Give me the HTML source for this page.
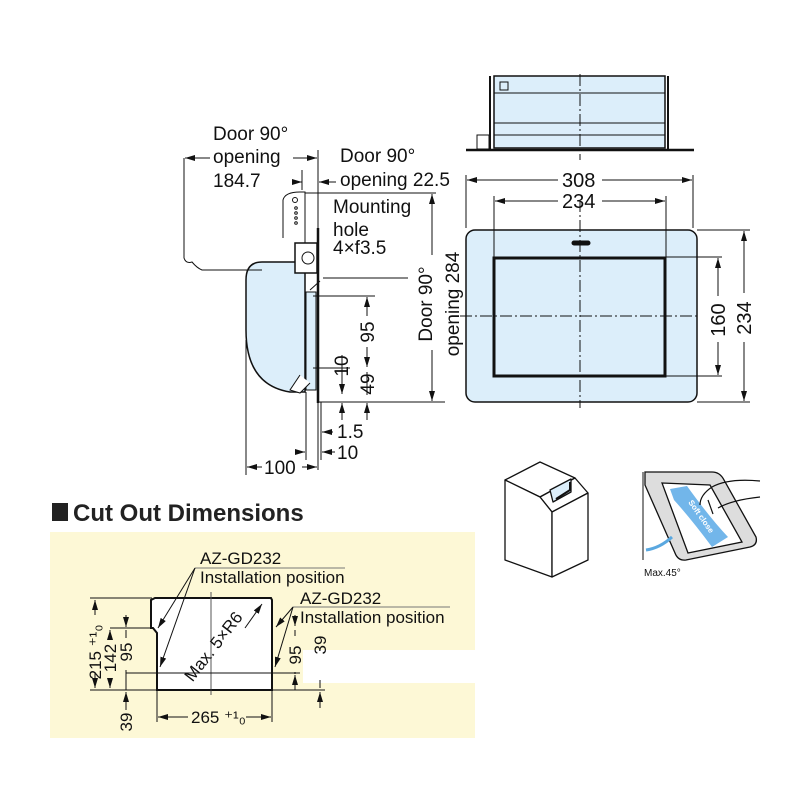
<!DOCTYPE html>
<html><head><meta charset="utf-8"><style>
html,body{margin:0;padding:0;background:#fff;width:800px;height:800px;overflow:hidden}
svg{display:block;font-family:"Liberation Sans",Arial,sans-serif}
</style></head><body>
<svg width="800" height="800" viewBox="0 0 800 800" xmlns="http://www.w3.org/2000/svg">
<defs>
<marker id="a" viewBox="0 0 10 6" refX="10" refY="3" markerWidth="10" markerHeight="6" orient="auto-start-reverse" markerUnits="userSpaceOnUse"><path d="M0,0L10,3L0,6z" fill="#111"/></marker>
</defs>
<g stroke="#111" fill="none" stroke-width="1">
<!-- TOP VIEW -->
<rect x="494" y="76" width="171" height="72" fill="#dceefa" stroke-width="1.5"/>
<line x1="494" y1="93" x2="665" y2="93"/>
<line x1="494" y1="123" x2="665" y2="123"/>
<line x1="494" y1="135" x2="665" y2="135"/>
<line x1="466" y1="150" x2="694" y2="150" stroke-width="2.5"/>
<rect x="477" y="135" width="12" height="14"/>
<rect x="500" y="82" width="8" height="8"/>
<line x1="490" y1="76" x2="490" y2="150" stroke-width="2"/>
<line x1="668" y1="76" x2="668" y2="150" stroke-width="2"/>
<line x1="580" y1="74" x2="580" y2="160" stroke-dasharray="12,3,2,3"/>
<!-- FRONT VIEW -->
<rect x="466" y="230" width="231" height="172" rx="9" fill="#dceefa" stroke-width="1.5"/>
<rect x="494" y="258" width="171" height="118" stroke-width="3"/>
<rect x="572" y="241" width="18" height="4" rx="2" fill="#111"/>
<line x1="580" y1="200" x2="580" y2="408" stroke-dasharray="12,3,2,3"/>
<line x1="460" y1="316" x2="700" y2="316" stroke-dasharray="12,3,2,3"/>
<!-- front dims -->
<line x1="466" y1="175" x2="466" y2="228"/><line x1="693" y1="175" x2="693" y2="228"/>
<line x1="494" y1="196" x2="494" y2="258"/><line x1="666" y1="196" x2="666" y2="258"/>
<line x1="467" y1="180" x2="558" y2="180" marker-start="url(#a)"/><line x1="602" y1="180" x2="692" y2="180" marker-end="url(#a)"/>
<line x1="495" y1="201" x2="558" y2="201" marker-start="url(#a)"/><line x1="602" y1="201" x2="665" y2="201" marker-end="url(#a)"/>
<line x1="665" y1="257" x2="722" y2="257"/><line x1="665" y1="376" x2="722" y2="376"/>
<line x1="697" y1="230" x2="750" y2="230"/><line x1="697" y1="402" x2="750" y2="402"/>
<line x1="718" y1="258" x2="718" y2="296" marker-start="url(#a)"/><line x1="718" y1="342" x2="718" y2="375" marker-end="url(#a)"/>
<line x1="744" y1="231" x2="744" y2="293" marker-start="url(#a)"/><line x1="744" y1="342" x2="744" y2="401" marker-end="url(#a)"/>
<!-- SIDE VIEW -->
<path d="M262,262 L305,262 L305,392 L290,392 Q246,385 246,330 L246,280 Q246,262 262,262Z" fill="#dceefa" stroke-width="1.5"/>
<rect x="306" y="292" width="10" height="98" fill="#dceefa"/>
<path d="M283,238 L283,200 Q285,192 300,192 L305,192 L305,243" fill="#fff"/>
<rect x="295" y="243" width="22" height="30" fill="#fff" stroke-width="1.5"/>
<circle cx="308" cy="258" r="6"/>
<line x1="318" y1="228" x2="318" y2="403" stroke-width="2.5"/>
<path d="M300,375 L290,390 L300,393 L310,383" fill="#fff"/>
<circle cx="295" cy="200" r="2.5"/><circle cx="296" cy="208" r="1.3"/><circle cx="296" cy="213" r="1.3"/><circle cx="296" cy="218" r="1.3"/><circle cx="296" cy="223" r="1.3"/>
<path d="M184,158 L184,258 Q186,264 192,262 Q197,268 202,270 L262,270"/>
<line x1="318" y1="150" x2="318" y2="228"/><line x1="302" y1="170" x2="302" y2="190"/>
<line x1="185" y1="158" x2="210" y2="158" marker-start="url(#a)"/><line x1="293" y1="158" x2="317" y2="158" marker-end="url(#a)"/>
<line x1="292" y1="182" x2="302" y2="182" marker-end="url(#a)"/><line x1="336" y1="182" x2="319" y2="182" marker-end="url(#a)"/>
<line x1="305" y1="193" x2="436" y2="193"/>
<line x1="318" y1="402" x2="445" y2="402"/>
<line x1="432" y1="194" x2="432" y2="255" marker-start="url(#a)"/><line x1="432" y1="350" x2="432" y2="401" marker-end="url(#a)"/>
<line x1="320" y1="281" x2="310" y2="290"/><line x1="323" y1="278" x2="408" y2="278"/>
<line x1="313" y1="296" x2="375" y2="296"/><line x1="313" y1="368" x2="350" y2="368"/>
<line x1="367" y1="297" x2="367" y2="316" marker-start="url(#a)"/><line x1="367" y1="347" x2="367" y2="367" marker-end="url(#a)"/>
<line x1="367" y1="372" x2="367" y2="395"/><line x1="367" y1="420" x2="367" y2="403" marker-end="url(#a)"/>
<line x1="342" y1="355" x2="342" y2="394" marker-end="url(#a)"/><line x1="342" y1="420" x2="342" y2="403" marker-end="url(#a)"/>
<line x1="318" y1="402" x2="318" y2="470"/><line x1="321" y1="402" x2="321" y2="460"/><line x1="306" y1="392" x2="306" y2="460"/><line x1="246" y1="340" x2="246" y2="475"/>
<line x1="333" y1="432" x2="322" y2="432" marker-end="url(#a)"/>
<line x1="296" y1="452" x2="305" y2="452" marker-end="url(#a)"/><line x1="335" y1="452" x2="322" y2="452" marker-end="url(#a)"/>
<line x1="247" y1="467" x2="262" y2="467" marker-start="url(#a)"/><line x1="302" y1="467" x2="317" y2="467" marker-end="url(#a)"/>
<!-- bin -->
<g stroke-width="1.3" stroke-linejoin="round">
<path d="M505,480 L540,462 L575,478 L540,497 Z" fill="#fff"/>
<path d="M540,497 L575,478 L588,493 L552,512 Z" fill="#fff"/>
<path d="M505,480 L540,497 L552,512 L552,577 L505,560 Z" fill="#fff"/>
<path d="M588,493 L588,560 L552,577 L552,512 Z" fill="#fff"/>
<path d="M550,490 L571,479 L571,492 L553,502 Z" fill="#dceefa"/>
<path d="M556,499 L570,490 L570,482" stroke-width="2"/>
</g>
<!-- tablet -->
<path d="M645,472 L712,472 Q720,472 724,480 L756,537 Q758,545 750,547 L686,560 Q678,561 675,553 L645,485 Z" fill="#ddd" stroke-width="1.3"/>
<path d="M662,483 L710,485 L742,542 L688,553 Z" fill="#fff" stroke-width="1.3"/>
<path d="M670,489 L687,486 Q710,518 728,537 L712,547 Q692,520 674,500 Z" fill="#72b6ea" stroke="none"/>
<path d="M712,487 Q728,478 760,481 M712,487 Q700,495 700,505 M718,508 Q732,500 760,497 M708,500 L713,514" stroke-width="1.2"/>
<line x1="643" y1="472" x2="643" y2="560"/>
<path d="M646,550 Q660,548 672,537" stroke="#5aa8e0" stroke-width="3"/>
</g>
<rect x="52" y="503" width="16" height="18" fill="#222"/>
<text x="73" y="521" font-size="24" font-weight="bold" fill="#222">Cut Out Dimensions</text>
<rect x="50" y="532" width="425" height="206" fill="#fdf8d6"/>
<rect x="303" y="650" width="172" height="33" fill="#fff"/>
<g stroke="#111" fill="none" stroke-width="1">
<path d="M155,598 L271,598 L272,600 L272,690 L157,690 L157,633 L153,628 L151,628 L151,600 Z" fill="#fff" stroke-width="2"/>
<line x1="211" y1="592" x2="211" y2="695" stroke="#555"/>
<line x1="90" y1="598" x2="152" y2="598"/><line x1="90" y1="690" x2="325" y2="690"/>
<line x1="110" y1="628" x2="150" y2="628"/><line x1="126" y1="673" x2="300" y2="673"/>
<line x1="95" y1="600" x2="95" y2="615" marker-start="url(#a)"/><line x1="95" y1="672" x2="95" y2="688" marker-end="url(#a)"/>
<line x1="110" y1="630" x2="110" y2="638" marker-start="url(#a)"/><line x1="110" y1="680" x2="110" y2="688" marker-end="url(#a)"/>
<line x1="126" y1="615" x2="126" y2="627" marker-end="url(#a)"/><line x1="126" y1="630" x2="126" y2="638"/><line x1="126" y1="670" x2="126" y2="690"/><line x1="126" y1="710" x2="126" y2="692" marker-end="url(#a)"/>
<line x1="157" y1="690" x2="157" y2="722"/><line x1="272" y1="690" x2="272" y2="722"/>
<line x1="158" y1="717" x2="188" y2="717" marker-start="url(#a)"/><line x1="246" y1="717" x2="271" y2="717" marker-end="url(#a)"/>
<line x1="195" y1="568" x2="345" y2="568" stroke="#777"/><line x1="195" y1="568" x2="158" y2="628" marker-end="url(#a)"/><line x1="195" y1="568" x2="160" y2="667" marker-end="url(#a)"/>
<line x1="293" y1="607" x2="450" y2="607" stroke="#777"/><line x1="293" y1="607" x2="276" y2="627" marker-end="url(#a)"/><line x1="293" y1="607" x2="275" y2="667" marker-end="url(#a)"/>
<line x1="295" y1="615" x2="295" y2="626" marker-end="url(#a)"/><line x1="295" y1="630" x2="295" y2="636"/><line x1="295" y1="672" x2="295" y2="674"/><line x1="295" y1="690" x2="295" y2="675" marker-end="url(#a)"/>
<line x1="320" y1="680" x2="320" y2="688"/><line x1="320" y1="708" x2="320" y2="692" marker-end="url(#a)"/>
<line x1="245" y1="628" x2="262" y2="604" marker-end="url(#a)"/>
</g>
<g fill="#111" font-size="19">
<text x="213" y="140">Door 90°</text><text x="213" y="163">opening</text><text x="213" y="187">184.7</text>
<text x="340" y="162">Door 90°</text><text x="340" y="186">opening 22.5</text>
<text x="333" y="213">Mounting</text><text x="333" y="236">hole</text><text x="333" y="254">4×f3.5</text>
<text transform="translate(432,304) rotate(-90)" text-anchor="middle">Door 90°</text>
<text transform="translate(459,304) rotate(-90)" text-anchor="middle">opening 284</text>
<text transform="translate(374,332) rotate(-90)" text-anchor="middle">95</text>
<text transform="translate(348,366) rotate(-90)" text-anchor="middle">10</text>
<text transform="translate(374,384) rotate(-90)" text-anchor="middle">49</text>
<text x="337" y="438">1.5</text><text x="337" y="459">10</text><text x="264" y="474">100</text>
<text x="562" y="187" font-size="20">308</text><text x="562" y="208" font-size="20">234</text>
<text transform="translate(725,320) rotate(-90)" text-anchor="middle" font-size="20">160</text>
<text transform="translate(751,318) rotate(-90)" text-anchor="middle" font-size="20">234</text>
</g>
<g fill="#111" font-size="17">
<text x="200" y="564">AZ-GD232</text><text x="200" y="583">Installation position</text>
<text x="300" y="604">AZ-GD232</text><text x="300" y="623">Installation position</text>
<text transform="translate(101,652) rotate(-90)" text-anchor="middle">215 ⁺¹₀</text>
<text transform="translate(116,658) rotate(-90)" text-anchor="middle">142</text>
<text transform="translate(132,652) rotate(-90)" text-anchor="middle">95</text>
<text transform="translate(132,722) rotate(-90)" text-anchor="middle">39</text>
<text transform="translate(301,655) rotate(-90)" text-anchor="middle">95</text>
<text transform="translate(326,645) rotate(-90)" text-anchor="middle">39</text>
<text x="191" y="723">265 ⁺¹₀</text>
<text transform="translate(218,650) rotate(-52)" text-anchor="middle">Max. 5×R6</text>
</g>
<text x="644" y="576" font-size="10" fill="#111">Max.45°</text>
<text transform="translate(699,518) rotate(55)" font-size="8" fill="#fff" font-weight="bold" text-anchor="middle">Soft close</text>
</svg>
</body></html>
